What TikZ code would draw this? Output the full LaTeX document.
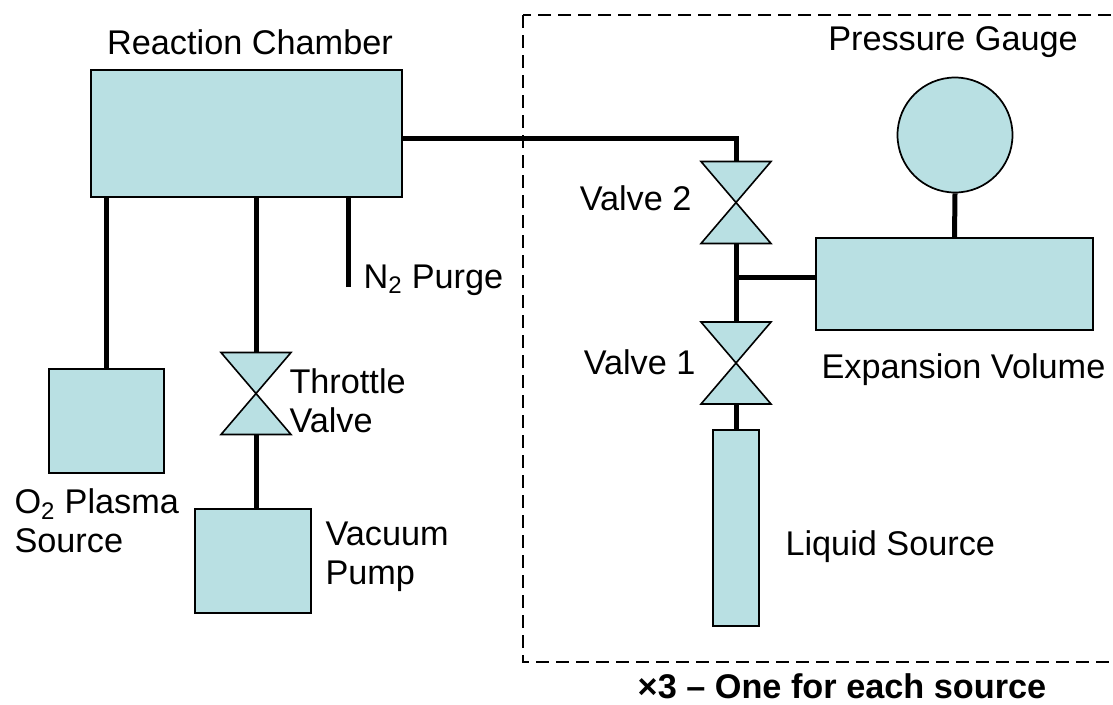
\documentclass[tikz,border=0pt]{standalone}
\usepackage{fontspec}
\setmainfont{Liberation Sans}
\usepackage{tikz}
\definecolor{partblue}{RGB}{185,224,227}
\tikzset{every picture/.style={line width=0.75pt}}
\tikzset{
  part/.style={draw, fill=partblue, line width=1.3pt, inner sep=0pt},
  valve/.style={inner sep=0pt, minimum width=51.75pt, minimum height=60.75pt},
  bowtie/.style={draw, fill=partblue, line width=1.2pt, line join=miter},
  pipe/.style={line width=3.75pt},
  lbl/.style={inner sep=0pt, font=\fontsize{25.7}{29}\selectfont},
}

\begin{document}
\begin{tikzpicture}[x=0.75pt,y=0.75pt,yscale=-1,xscale=1]
		\useasboundingbox (0,0) rectangle (1113,704);
		
		%Dashed box: one set per source
		\draw [line width=1.4pt, dash pattern=on 10pt off 5pt] (523,15) rectangle (1130,662);
		
		%Shape: Rectangle [chamber]
		\node [part, minimum width=233.25pt, minimum height=95.25pt] (chamber) at (246.5,133.5) {};
		%Shape: Rectangle [O2 source]
		\node [part, minimum width=86.25pt, minimum height=78pt] (plasma) at (106.5,421) {};
		%Shape: Rectangle [pump]
		\node [part, minimum width=87pt, minimum height=78pt] (pump) at (253,561) {};
		%Shape: Circle [gauge]
		\node [part, circle, minimum size=86.25pt] (gauge) at (955,135) {};
		%Shape: Rectangle [expansion volume]
		\node [part, minimum width=207.75pt, minimum height=69pt] (expvol) at (954.5,284) {};
		%Shape: Rectangle [liquid source]
		\node [part, minimum width=34.5pt, minimum height=147pt] (liquid) at (736,528) {};
		
		%Valves
		\node [valve] (throttle) at (256,393.5) {};
		\node [valve] (valvetwo) at (736,202.5) {};
		\node [valve] (valveone) at (736,363) {};
		\foreach \v in {throttle,valvetwo,valveone}
		  \draw [bowtie] (\v.north west) -- (\v.north east) -- (\v.south west) -- (\v.south east) -- cycle ;
		
		%Corner points of the lines
		\coordinate (corner) at (736,138.5);
		\coordinate (branch) at (736,277);
		\coordinate (purgeend) at (348,287);
		
		%Straight Lines
		\draw [pipe] (chamber.east |- corner) -- (corner) -- (valvetwo.north) ;
		\draw [pipe] (valvetwo.south) -- (valveone.north) ;
		\draw [pipe] (branch) -- (branch -| expvol.west) ;
		\draw [pipe] (valveone.south) -- (liquid.north) ;
		\draw [pipe] (gauge.south) -- (expvol.north) ;
		\draw [pipe] (plasma.north) -- (plasma.north |- chamber.south) ;
		\draw [pipe] (throttle.north) -- (throttle.north |- chamber.south) ;
		\draw [pipe] (throttle.south) -- (throttle.south |- pump.north) ;
		\draw [pipe] (purgeend) -- (purgeend |- chamber.south) ;
		
		% Text Node
		\node [lbl] (chamberlbl) at (250,42) {Reaction Chamber};
		% Text Node
		\node [lbl] (gaugelbl) at (953,42) {Pressure Gauge};
		% Text Node
		\node [lbl, anchor=west] (purgelbl) at (363,280) {N\textsubscript{2} Purge};
		% Text Node
		\node [lbl, anchor=west, align=left] (plasmalbl) at (14,521) {O\textsubscript{2} Plasma\\Source};
		% Text Node
		\node [lbl, anchor=west, align=left] (throttlelbl) at (289,401) {Throttle\\Valve};
		% Text Node
		\node [lbl, anchor=west, align=left] (pumplbl) at (325,557) {Vacuum\\Pump};
		% Text Node
		\node [lbl, anchor=east] (valvetwolbl) at (692,198) {Valve 2};
		% Text Node
		\node [lbl, anchor=east] (valveonelbl) at (696,362) {Valve 1};
		% Text Node
		\node [lbl, anchor=west] (expvollbl) at (821,370) {Expansion Volume};
		% Text Node
		\node [lbl, anchor=west] (liquidlbl) at (785,547) {Liquid Source};
		% Text Node
		\node [lbl, font=\fontsize{25.7}{29}\selectfont\bfseries] (countlbl) at (842,686) {×3 -- One for each source};
		
\end{tikzpicture}
\end{document}
